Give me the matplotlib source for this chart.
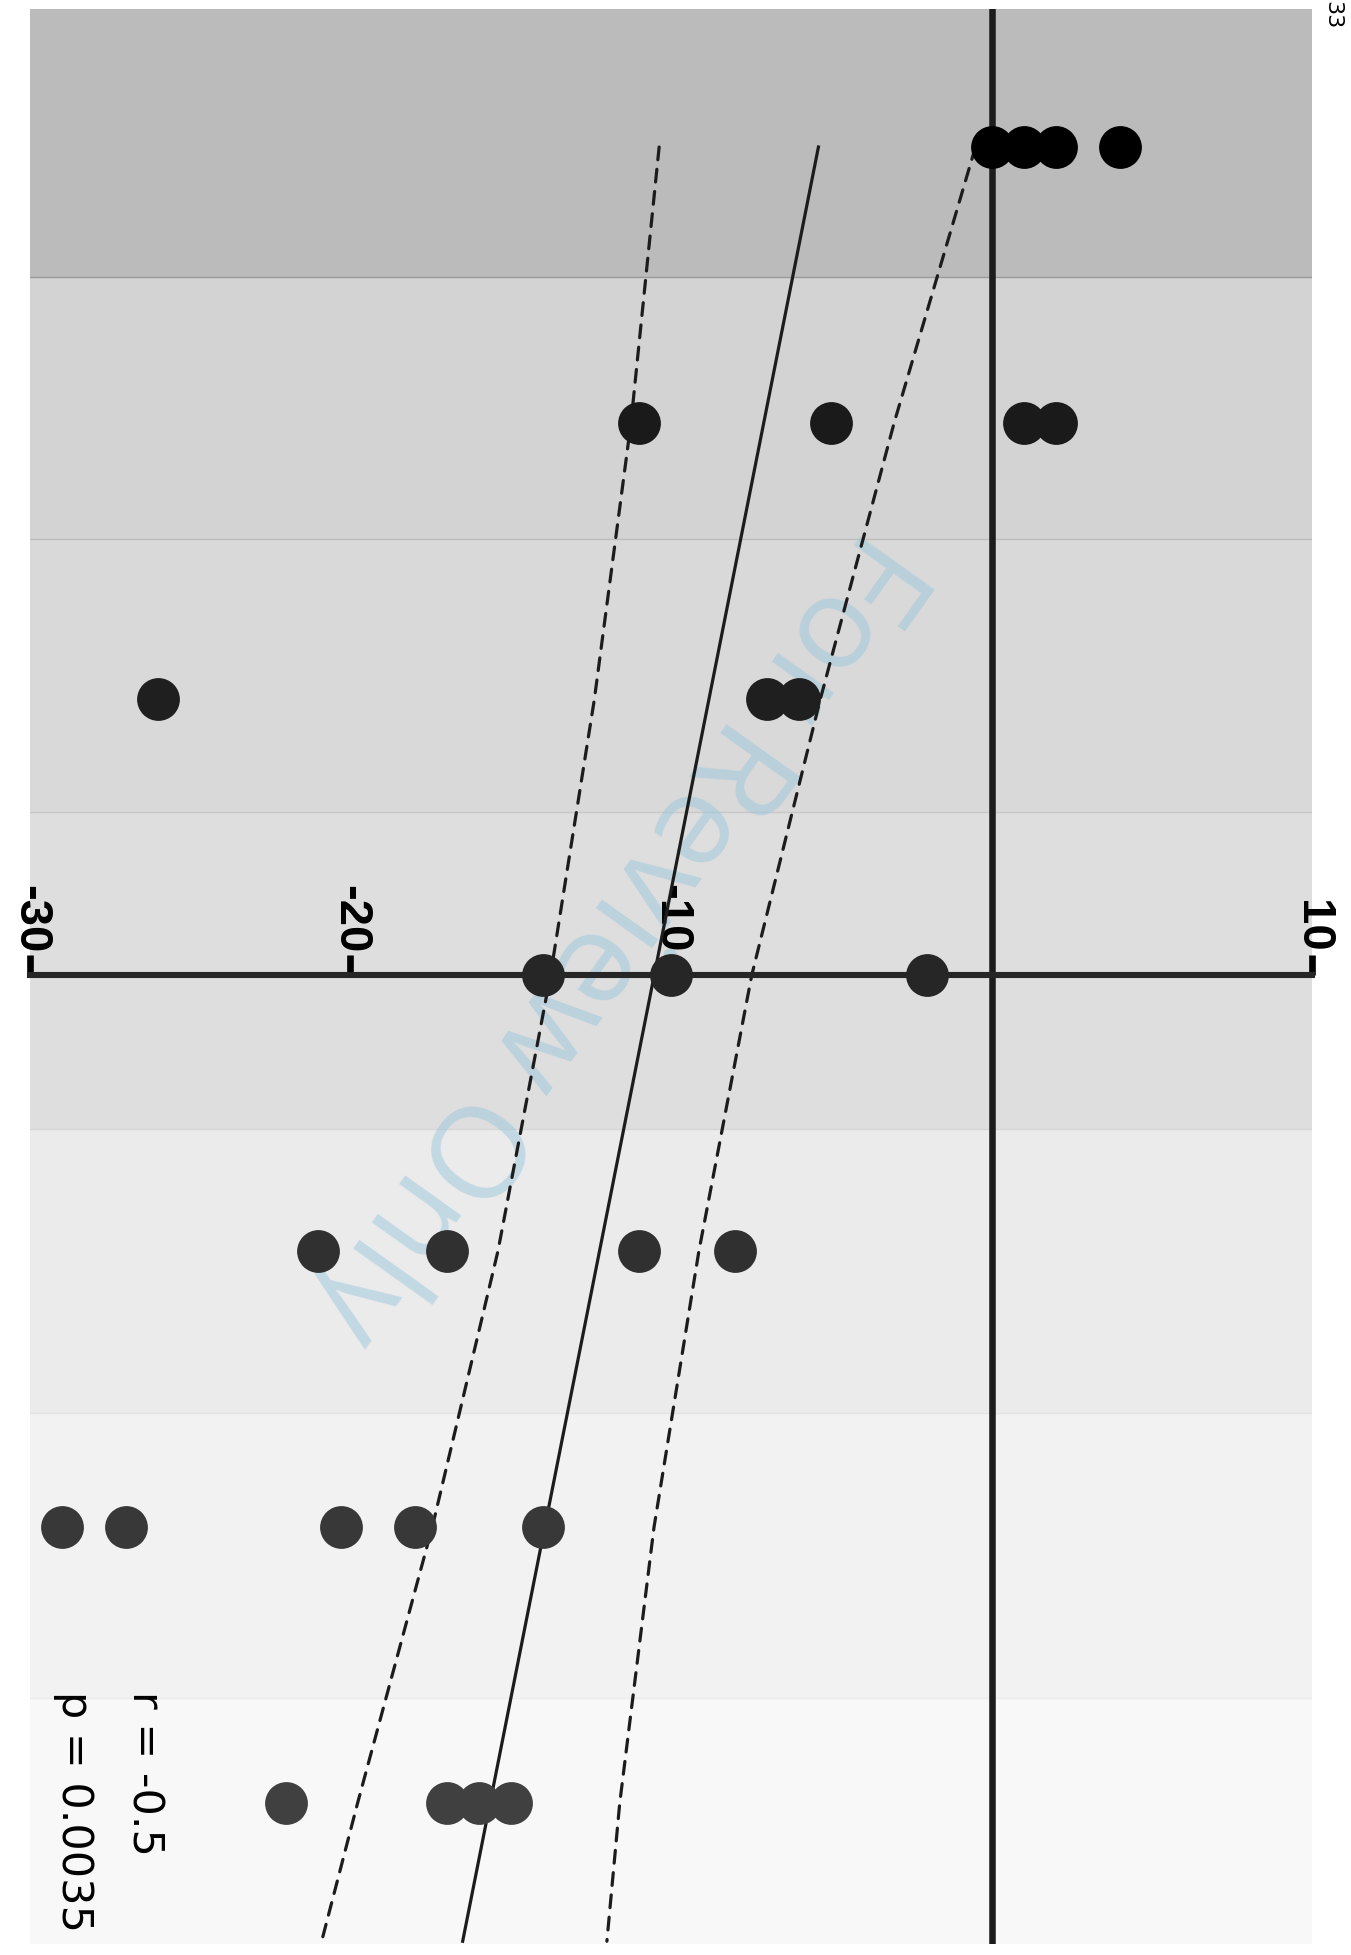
import matplotlib
matplotlib.use("Agg")
import matplotlib.pyplot as plt
from matplotlib import font_manager

# one row of dots per group, top to bottom (chart is drawn turned on its side)
rows = [0, 1, 2, 3, 4, 5, 6]
row_values = [
    [0, 1, 2, 4],
    [-11, -5, 1, 2],
    [-26, -7, -6],
    [-14, -10, -2],
    [-21, -17, -11, -8],
    [-29, -27, -20.3, -18, -14],
    [-22, -17, -16, -15],
]
dot_colors = ["#000000", "#1a1a1a", "#1f1f1f", "#262626", "#303030", "#383838", "#404040"]

# shaded bands behind the rows
band_edges = [-0.5, 0.471, 1.42, 2.409, 3.558, 4.587, 5.62, 6.51]
band_colors = ["#bbbbbb", "#d3d3d3", "#d9d9d9", "#dedede", "#ebebeb", "#f2f2f2", "#f8f8f8"]
band_line_colors = ["#9a9a9a", "#bdbdbd", "#c8c8c8", "#d6d6d6", "#e3e3e3", "#ececec"]

# regression line and confidence band
fit_pos = [0, 6.5]
fit_val = [-5.4, -16.5]
ci_pos = [0, 1, 2, 3, 4, 5, 6, 6.5]
ci_low = [-10.37, -11.25, -12.39, -13.76, -15.4, -17.45, -19.78, -20.9]
ci_high = [-0.5, -3.04, -5.34, -7.48, -9.13, -10.53, -11.6, -12.0]

x_ticks = [-30, -20, -10, 10]
axis_row = 3
r_text = "r = -0.5"
p_text = "p = 0.0035"
corner_text = "33"
watermark = "For Review Only"


def main():
    names = {f.name for f in font_manager.fontManager.ttflist}
    tick_font = "Liberation Sans" if "Liberation Sans" in names else "DejaVu Sans"
    mark_font = "Open Sans" if "Open Sans" in names else "DejaVu Sans"
    narrow = "Liberation Sans Narrow" if "Liberation Sans Narrow" in names else "DejaVu Sans"

    fig = plt.figure(figsize=(13.51, 19.55), dpi=100)
    ax = fig.add_axes([30 / 1351, 11 / 1955, 1282 / 1351, 1935 / 1955])
    ax.set_xlim(-29.91, 9.91)
    ax.set_ylim(band_edges[-1], band_edges[0])

    for i, col in enumerate(band_colors):
        ax.axhspan(band_edges[i], band_edges[i + 1], color=col, lw=0, zorder=0)
    for i, col in enumerate(band_line_colors):
        ax.axhline(band_edges[i + 1], color=col, lw=1, zorder=0.5)

    ax.text(-11.75, 2.86, watermark, rotation=-125.5, rotation_mode="anchor",
            ha="center", va="center", fontsize=93, family=mark_font,
            color="#9cc8dc", alpha=0.52, zorder=1)

    ax.axvline(0, color="#1c1c1c", lw=4.7, zorder=2)
    ax.plot(fit_val, fit_pos, color="#1c1c1c", lw=2.3, zorder=2)
    for vals in (ci_low, ci_high):
        ax.plot(vals, ci_pos, color="#1c1c1c", lw=2.3, ls=(0, (4, 3)),
                dash_capstyle="round", zorder=2)

    for r, vals, col in zip(rows, row_values, dot_colors):
        ax.scatter(vals, [r] * len(vals), s=950, color=col, lw=0, zorder=3)

    for side in ["left", "right", "bottom"]:
        ax.spines[side].set_visible(False)
    ax.spines["top"].set_position(("data", axis_row))
    ax.spines["top"].set_bounds(x_ticks[0], x_ticks[-1])
    ax.spines["top"].set_linewidth(4.4)
    ax.spines["top"].set_color("#262626")
    ax.xaxis.set_ticks_position("top")
    ax.set_xticks(x_ticks)
    ax.set_xticklabels([str(t) for t in x_ticks])
    ax.tick_params(axis="x", direction="out", length=14.5, width=4.8,
                   color="black", pad=1.5, labelsize=34, labelrotation=-90)
    for lbl in ax.get_xticklabels():
        lbl.set_fontfamily(tick_font)
        lbl.set_fontweight("bold")
    ax.set_yticks([])

    ax.text(0.0796, 0.1307, r_text, transform=ax.transAxes, rotation=-90,
            rotation_mode="anchor", ha="left", va="baseline", fontsize=31)
    ax.text(0.0250, 0.1307, p_text, transform=ax.transAxes, rotation=-90,
            rotation_mode="anchor", ha="left", va="baseline", fontsize=31)

    fig.text(1326 / 1351, 1 - 1 / 1955, corner_text, rotation=-90,
             rotation_mode="anchor", ha="left", va="baseline",
             fontsize=16, family=narrow)

    fig.savefig("out.png", dpi=100)


if __name__ == "__main__":
    main()
